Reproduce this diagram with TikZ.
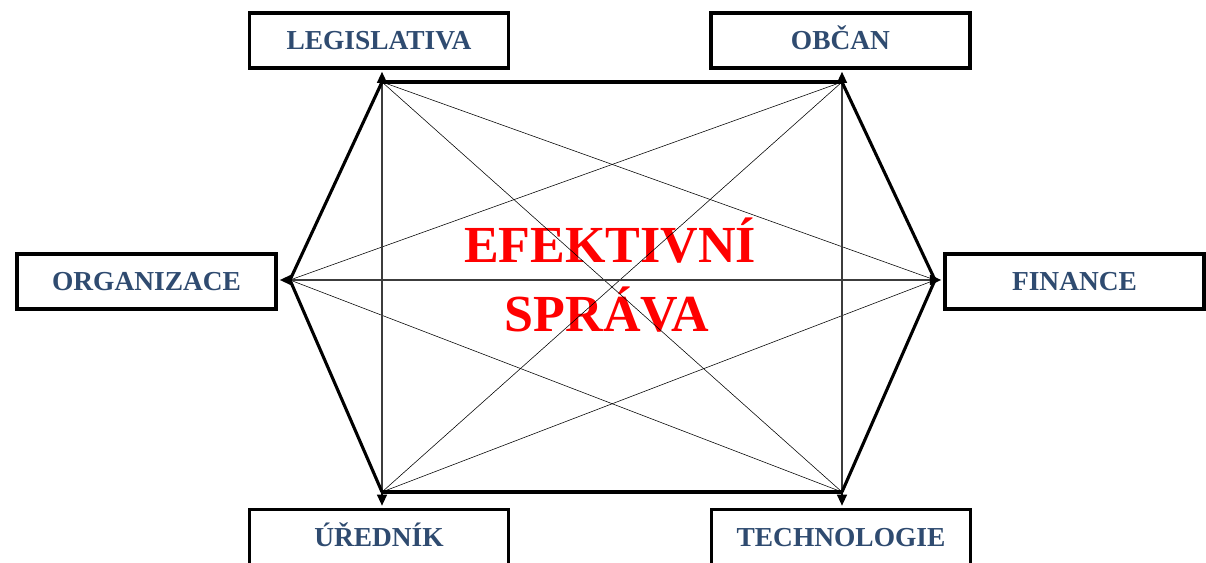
\documentclass[tikz,border=0pt]{standalone}
\usepackage{fontspec}
\setmainfont{Liberation Serif}
\usetikzlibrary{arrows.meta}
\definecolor{boxtext}{RGB}{47,75,112}
\definecolor{thin}{RGB}{110,110,110}
\definecolor{mid}{RGB}{60,60,60}
\begin{document}
\begin{tikzpicture}[x=0.025cm,y=-0.025cm,
  box/.style={draw=black, line width=2.3pt, fill=white, minimum width=6.475cm, minimum height=1.375cm, inner sep=0pt, text height=12.9pt, text depth=0pt, text=boxtext, font=\bfseries\fontsize{19.5}{23}\selectfont},
  hexedge/.style={line width=2.2pt, black},
  midline/.style={line width=1.5pt, mid},
  thinline/.style={line width=0.75pt, thin},
  tip/.style={-{Triangle[length=8pt,width=7pt]}, line width=1.5pt, shorten >=1.5pt},
  title/.style={text=red, font=\bfseries\fontsize{37}{44}\selectfont, anchor=base, inner sep=0pt}]
\useasboundingbox (0,0) rectangle (1206,563);
% centre text
\node[title] (t1) at (610,263) {EFEKTIVNÍ};
\node[title] (t2) at (607,332) {SPRÁVA};
% vertices
\coordinate (vA) at (382,82);
\coordinate (vB) at (842,82);
\coordinate (vL) at (290,280);
\coordinate (vR) at (935,280);
\coordinate (vBL) at (382,492);
\coordinate (vBR) at (842,492);
% thin diagonals
\draw[thinline] (vA) -- (vR);
\draw[thinline] (vA) -- (vBR);
\draw[thinline] (vB) -- (vL);
\draw[thinline] (vB) -- (vBL);
\draw[thinline] (vL) -- (vBR);
\draw[thinline] (vR) -- (vBL);
% middle lines
\draw[midline] (vA) -- (vBL);
\draw[midline] (vB) -- (vBR);
\draw[midline] (vL) -- (vR);
% hexagon
\draw[hexedge] (vA) -- (vB);
\draw[hexedge] (vB) -- (vR);
\draw[hexedge] (vR) -- (vBR);
\draw[hexedge] (vBR) -- (vBL);
\draw[hexedge] (vBL) -- (vL);
\draw[hexedge] (vL) -- (vA);
% boxes
\node[box] (leg) at (379,40.5) {LEGISLATIVA};
\node[box] (obc) at (840.5,40.5) {OBČAN};
\node[box] (org) at (146.5,281.5) {ORGANIZACE};
\node[box] (fin) at (1074.5,281.5) {FINANCE};
\node[box] (ure) at (379,537) {ÚŘEDNÍK};
\node[box] (tec) at (841,537) {TECHNOLOGIE};
% arrow tips
\draw[tip] (vA) -- (vA |- leg.south);
\draw[tip] (vB) -- (vB |- obc.south);
\draw[tip] (vL) -- (vL -| org.east);
\draw[tip] (vR) -- (vR -| fin.west);
\draw[tip] (vBL) -- (vBL |- ure.north);
\draw[tip] (vBR) -- (vBR |- tec.north);
\end{tikzpicture}
\end{document}
